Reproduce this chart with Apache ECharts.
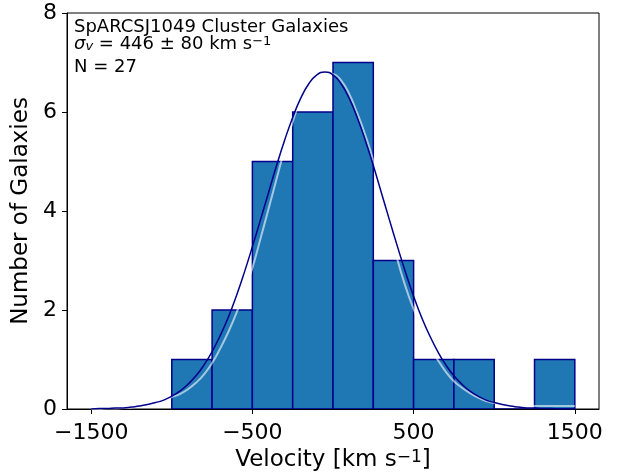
<!DOCTYPE html>
<html>
<head>
<meta charset="utf-8">
<script src="https://cdn.jsdelivr.net/npm/echarts@6/dist/echarts.min.js"></script>
<style>
  html, body { margin: 0; padding: 0; background: #fff; }
  #chart { width: 618px; height: 474px; }
</style>
</head>
<body>
<div id="chart"></div>
<script>
// histogram bins (km/s) and counts
const binEdges = [-1000, -750, -500, -250, 0, 250, 500, 750, 1000, 1250, 1500];
const counts = [1, 2, 5, 6, 7, 3, 1, 1, 0, 1];

// gaussian curves
const curveX = [-1500, -1450, -1400, -1350, -1300, -1250, -1200, -1150, -1100, -1050,
  -1000, -950, -900, -850, -800, -750, -700, -650, -600, -550,
  -500, -450, -400, -350, -300, -250, -200, -150, -100, -50,
  0, 50, 100, 150, 200, 250, 300, 350, 400, 450,
  500, 550, 600, 650, 700, 750, 800, 850, 900, 950,
  1000, 1050, 1100, 1150, 1200, 1250, 1300, 1350, 1400, 1450, 1500];
const fitY = [0.00, 0.01, 0.01, 0.02, 0.02, 0.04, 0.06, 0.09, 0.13, 0.18,
  0.26, 0.36, 0.50, 0.67, 0.89, 1.16, 1.48, 1.85, 2.28, 2.76,
  3.28, 3.82, 4.37, 4.92, 5.43, 5.89, 6.28, 6.57, 6.75, 6.81,
  6.75, 6.57, 6.28, 5.89, 5.43, 4.92, 4.37, 3.82, 3.28, 2.76,
  2.28, 1.85, 1.48, 1.16, 0.89, 0.67, 0.50, 0.36, 0.26, 0.18,
  0.13, 0.09, 0.06, 0.04, 0.02, 0.02, 0.01, 0.01, 0.00, 0.00, 0.00];
const lightY = [0.00, 0.00, 0.01, 0.01, 0.02, 0.03, 0.05, 0.08, 0.12, 0.17,
  0.24, 0.30, 0.40, 0.53, 0.70, 0.93, 1.22, 1.55, 1.93, 2.37,
  2.85, 3.44, 4.04, 4.65, 5.25, 5.80, 6.25, 6.55, 6.72, 6.79,
  6.77, 6.64, 6.37, 5.98, 5.54, 5.02, 4.37, 3.66, 3.01, 2.47,
  2.02, 1.63, 1.28, 0.99, 0.75, 0.56, 0.43, 0.32, 0.23, 0.16,
  0.12, 0.09, 0.08, 0.07, 0.06, 0.06, 0.06, 0.06, 0.06, 0.06, 0.06];

const xTicks = [-1500, -500, 500, 1500];

const FONT = 'DejaVu Sans';

const chart = echarts.init(document.getElementById('chart'), null, { renderer: 'canvas' });

const barData = counts.map((c, i) => [binEdges[i], binEdges[i + 1], c]);
const fitData = curveX.map((x, i) => [x, fitY[i]]);
const lightData = curveX.map((x, i) => [x, lightY[i]]);

function minus(v) {
  return String(v).replace('-', '\u2212');
}

var option = {
  backgroundColor: '#fff',
  animation: false,
  grid: {
    left: 67,
    right: 19,
    top: 13,
    bottom: 65,
    outerBoundsMode: 'none',
    containLabel: false,
    show: true,
    borderColor: '#000',
    borderWidth: 1,
    backgroundColor: 'transparent'
  },
  xAxis: {
    type: 'value',
    min: -1650,
    max: 1650,
    name: 'Velocity [km s{sup|\u22121}]',
    nameLocation: 'middle',
    nameGap: 37,
    nameTextStyle: {
      fontFamily: FONT,
      fontSize: 23,
      color: '#000',
      rich: {
        sup: { fontFamily: FONT, fontSize: 17, verticalAlign: 'top', color: '#000' }
      }
    },
    axisLine: { show: true, onZero: false, lineStyle: { color: '#000', width: 1 } },
    axisTick: { show: true, length: 5, customValues: xTicks, lineStyle: { color: '#000' } },
    axisLabel: {
      customValues: xTicks,
      fontFamily: FONT,
      fontSize: 22,
      color: '#000',
      margin: 13,
      formatter: minus
    },
    splitLine: { show: false }
  },
  yAxis: {
    type: 'value',
    min: 0,
    max: 8,
    interval: 2,
    name: 'Number of Galaxies',
    nameLocation: 'middle',
    nameGap: 22,
    nameTextStyle: { fontFamily: FONT, fontSize: 23, color: '#000' },
    axisLine: { show: true, onZero: false, lineStyle: { color: '#000', width: 1 } },
    axisTick: { show: true, length: 5, lineStyle: { color: '#000' } },
    axisLabel: { fontFamily: FONT, fontSize: 22, color: '#000', margin: 10 },
    splitLine: { show: false }
  },
  graphic: [
    {
      type: 'text',
      left: 74,
      top: 18,
      z: 100,
      style: { text: 'SpARCSJ1049 Cluster Galaxies', fontFamily: FONT, fontSize: 18, fill: '#000' }
    },
    {
      type: 'text',
      left: 74,
      top: 35,
      z: 100,
      style: {
        text: '{s|\u03c3}{v|v} = 446 \u00b1 80 km s{sup|\u22121}',
        fontFamily: FONT,
        fontSize: 18,
        fill: '#000',
        rich: {
          s: { fontFamily: FONT, fontSize: 18, fontStyle: 'italic', fill: '#000' },
          v: { fontFamily: FONT, fontSize: 13, fontStyle: 'italic', verticalAlign: 'bottom', fill: '#000' },
          sup: { fontFamily: FONT, fontSize: 13, verticalAlign: 'top', fill: '#000' }
        }
      }
    },
    {
      type: 'text',
      left: 74,
      top: 58,
      z: 100,
      style: { text: 'N = 27', fontFamily: FONT, fontSize: 18, fill: '#000' }
    }
  ],
  series: [
    {
      name: 'hist',
      type: 'custom',
      clip: true,
      data: barData,
      encode: { x: [0, 1], y: 2 },
      renderItem: function (params, api) {
        const p0 = api.coord([api.value(0), api.value(2)]);
        const p1 = api.coord([api.value(1), 0]);
        return {
          type: 'rect',
          shape: { x: p0[0], y: p0[1], width: p1[0] - p0[0], height: p1[1] - p0[1] },
          style: { fill: '#1f77b4', stroke: '#00008b', lineWidth: 1.5 }
        };
      },
      z: 2
    },
    {
      name: 'light',
      type: 'line',
      data: lightData,
      showSymbol: false,
      symbol: 'none',
      smooth: true,
      lineStyle: { color: 'rgba(255,255,255,0.6)', width: 2 },
      z: 3
    },
    {
      name: 'fit',
      type: 'line',
      data: fitData,
      showSymbol: false,
      symbol: 'none',
      smooth: true,
      lineStyle: { color: '#00008b', width: 1.5 },
      z: 4
    }
  ]
};

chart.setOption(option);
</script>
</body>
</html>
